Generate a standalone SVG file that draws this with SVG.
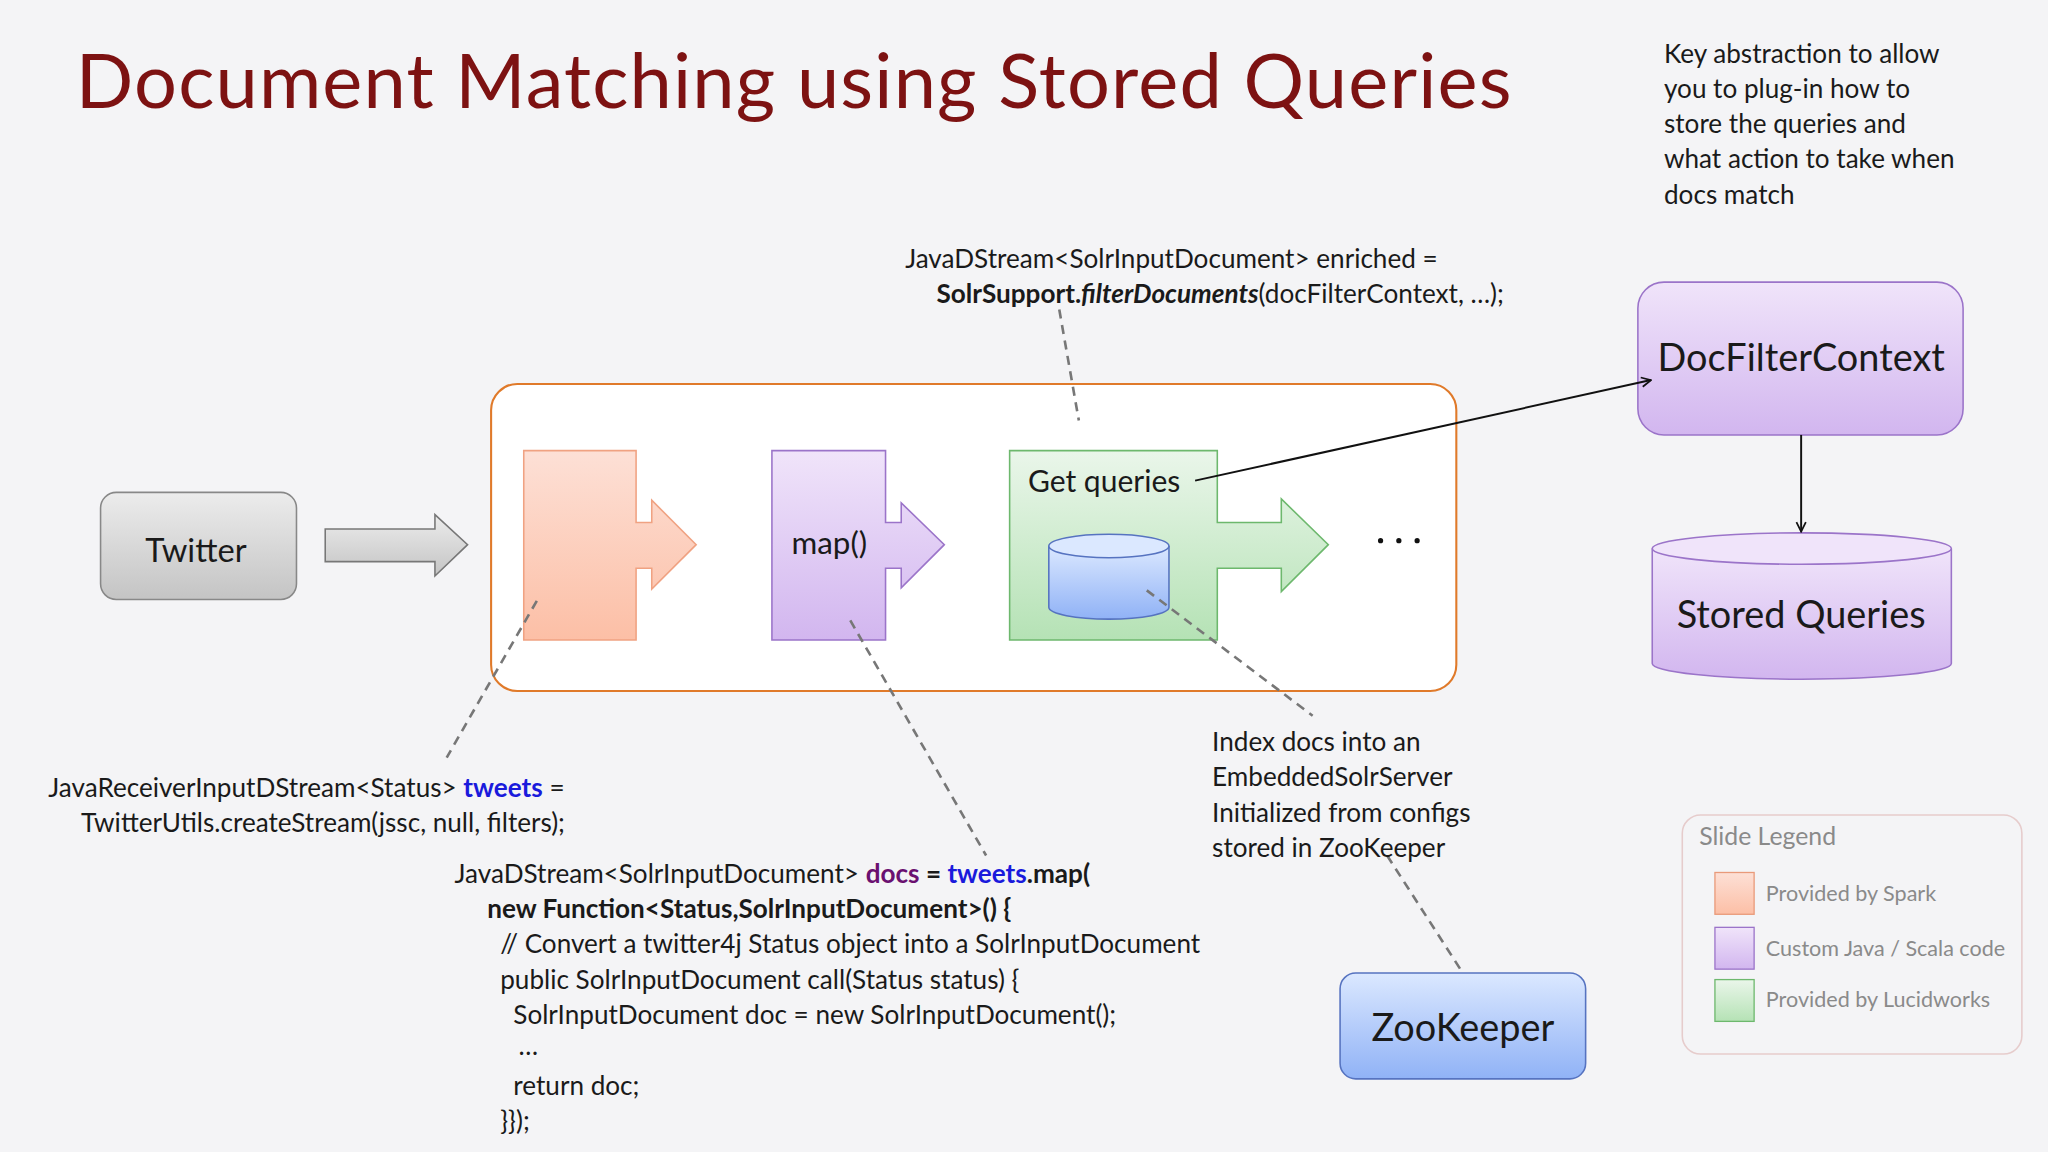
<svg xmlns="http://www.w3.org/2000/svg" width="2048" height="1152" viewBox="0 0 2048 1152">
<defs>
<linearGradient id="gGray" x1="0" y1="0" x2="0" y2="1"><stop offset="0" stop-color="#ececec"/><stop offset="1" stop-color="#c4c4c4"/></linearGradient>
<linearGradient id="gOr" x1="0" y1="0" x2="0" y2="1"><stop offset="0" stop-color="#fde0d6"/><stop offset="1" stop-color="#fcbfa6"/></linearGradient>
<linearGradient id="gPu" x1="0" y1="0" x2="0" y2="1"><stop offset="0" stop-color="#f0e4fa"/><stop offset="1" stop-color="#d2b6ef"/></linearGradient>
<linearGradient id="gGr" x1="0" y1="0" x2="0" y2="1"><stop offset="0" stop-color="#eaf6ea"/><stop offset="1" stop-color="#b5e2b5"/></linearGradient>
<linearGradient id="gBl" x1="0" y1="0" x2="0" y2="1"><stop offset="0" stop-color="#dbe8ff"/><stop offset="1" stop-color="#90b2f6"/></linearGradient>
<marker id="ah" viewBox="0 0 10 10" refX="9" refY="5" markerWidth="9" markerHeight="9" orient="auto" markerUnits="userSpaceOnUse"><path d="M1,1 L9,5 L1,9" fill="none" stroke="#111" stroke-width="1.5"/></marker>
</defs>
<style>
text{font-family:Lato,"Noto Sans","Liberation Sans",sans-serif;fill:#1a1a1a}
.c{font-size:20px}
.b{font-weight:bold}
.dash{stroke:#777;stroke-width:2;stroke-dasharray:7 5;fill:none}
.lg{font-size:16.5px;fill:#8a8a8a}
</style>
<rect width="2048" height="1152" fill="#f4f4f6"/>
<g transform="scale(1.30612)">
<text x="58" y="83" font-size="58" letter-spacing="0.9" style="fill:#7d1212">Document Matching using Stored Queries</text>
<g id="note" font-size="20">
<text x="1274" y="48">Key abstraction to allow</text>
<text x="1274" y="75">you to plug-in how to</text>
<text x="1274" y="102">store the queries and</text>
<text x="1274" y="129">what action to take when</text>
<text x="1274" y="156">docs match</text>
</g>
<g id="code-top" class="c">
<text x="693" y="205">JavaDStream&lt;SolrInputDocument&gt; enriched =</text>
<text x="717" y="232"><tspan class="b">SolrSupport.</tspan><tspan class="b" font-style="italic">filterDocuments</tspan>(docFilterContext, …);</text>
</g>
<g id="container"><rect x="376" y="294" width="739" height="235" rx="20" fill="#fff" stroke="#e07a2a" stroke-width="1.6"/></g>
<g id="twitter">
<rect x="77" y="377" width="150" height="82" rx="12" fill="url(#gGray)" stroke="#888" stroke-width="1.2"/>
<text x="150" y="430" font-size="25" text-anchor="middle">Twitter</text>
</g>
<g id="bigarrow"><path d="M249,405 H333 V394 L358,417 L333,441 V430 H249 Z" fill="url(#gGray)" stroke="#777" stroke-width="1.2"/></g>
<g id="spark"><path d="M401,345 H487 V400 H499 V383 L533,417 L499,451 V435 H487 V490 H401 Z" fill="url(#gOr)" stroke="#f0a282" stroke-width="1.2"/></g>
<g id="map">
<path d="M591,345 H678 V400 H690 V385 L723,417 L690,450 V435 H678 V490 H591 Z" fill="url(#gPu)" stroke="#9b74c9" stroke-width="1.2"/>
<text x="606" y="424" font-size="24">map()</text>
</g>
<g id="getq">
<path d="M773,345 H932 V400 H981 V382 L1017,417 L981,453 V435 H932 V490 H773 Z" fill="url(#gGr)" stroke="#6db86d" stroke-width="1.2"/>
<text x="787" y="377" font-size="23">Get queries</text>
<path d="M803,418 V465 A46,9 0 0 0 895,465 V418" fill="url(#gBl)" stroke="#5673c0" stroke-width="1.2"/>
<ellipse cx="849" cy="418" rx="46" ry="9" fill="#dbe8ff" stroke="#5673c0" stroke-width="1.2"/>
</g>
<g id="dots" fill="#111"><circle cx="1057" cy="414" r="2"/><circle cx="1071" cy="414" r="2"/><circle cx="1085" cy="414" r="2"/></g>
<g id="docfilter">
<rect x="1254" y="216" width="249" height="117" rx="20" fill="url(#gPu)" stroke="#9b74c9" stroke-width="1.2"/>
<text x="1379" y="284" font-size="29" text-anchor="middle">DocFilterContext</text>
</g>
<g id="stored">
<path d="M1265,420 V508 A114.5,12 0 0 0 1494,508 V420" fill="url(#gPu)" stroke="#9b74c9" stroke-width="1.2"/>
<ellipse cx="1379.5" cy="420" rx="114.5" ry="12" fill="#f0e4fa" stroke="#9b74c9" stroke-width="1.2"/>
<text x="1379" y="481" font-size="29" text-anchor="middle">Stored Queries</text>
</g>
<g id="zookeeper">
<rect x="1026" y="745" width="188" height="81" rx="12" fill="url(#gBl)" stroke="#5673c0" stroke-width="1.2"/>
<text x="1120" y="797" font-size="29" text-anchor="middle">ZooKeeper</text>
</g>
<g id="connectors">
<line x1="915" y1="368" x2="1264" y2="291" stroke="#111" stroke-width="1.5" marker-end="url(#ah)"/>
<line x1="1379" y1="333" x2="1379" y2="407" stroke="#111" stroke-width="1.5" marker-end="url(#ah)"/>
<line class="dash" x1="811" y1="237" x2="826" y2="322"/>
<line class="dash" x1="411" y1="460" x2="342" y2="580"/>
<line class="dash" x1="651" y1="475" x2="755" y2="655"/>
<line class="dash" x1="878" y1="452" x2="1005" y2="548"/>
<line class="dash" x1="1062" y1="655" x2="1120" y2="745"/>
</g>
<g id="code-tweets" class="c">
<text x="37" y="610">JavaReceiverInputDStream&lt;Status&gt; <tspan class="b" style="fill:#1a1adc">tweets</tspan> =</text>
<text x="62" y="637">TwitterUtils.createStream(jssc, null, filters);</text>
</g>
<g id="code-map" class="c">
<text x="348" y="676">JavaDStream&lt;SolrInputDocument&gt; <tspan class="b" style="fill:#6a1070">docs</tspan><tspan class="b"> = </tspan><tspan class="b" style="fill:#1a1adc">tweets</tspan><tspan class="b">.map(</tspan></text>
<text x="373" y="703" class="b">new Function&lt;Status,SolrInputDocument&gt;() {</text>
<text x="383" y="730">// Convert a twitter4j Status object into a SolrInputDocument</text>
<text x="383" y="757">public SolrInputDocument call(Status status) {</text>
<text x="393" y="784">SolrInputDocument doc = new SolrInputDocument();</text>
<text x="397" y="808">…</text>
<text x="393" y="838">return doc;</text>
<text x="383" y="865">}});</text>
</g>
<g id="index-note" class="c">
<text x="928" y="575">Index docs into an</text>
<text x="928" y="602">EmbeddedSolrServer</text>
<text x="928" y="629">Initialized from configs</text>
<text x="928" y="656">stored in ZooKeeper</text>
</g>
<g id="legend">
<rect x="1288" y="624" width="260" height="183" rx="14" fill="none" stroke="#e6cccc" stroke-width="1.2"/>
<text x="1301" y="647" font-size="19" style="fill:#8a8a8a">Slide Legend</text>
<rect x="1313" y="668" width="30" height="32" fill="url(#gOr)" stroke="#e99a7a"/>
<text x="1352" y="690" class="lg">Provided by Spark</text>
<rect x="1313" y="710" width="30" height="32" fill="url(#gPu)" stroke="#9b74c9"/>
<text x="1352" y="732" class="lg">Custom Java / Scala code</text>
<rect x="1313" y="750" width="30" height="32" fill="url(#gGr)" stroke="#6db86d"/>
<text x="1352" y="771" class="lg">Provided by Lucidworks</text>
</g>
</g>
</svg>
